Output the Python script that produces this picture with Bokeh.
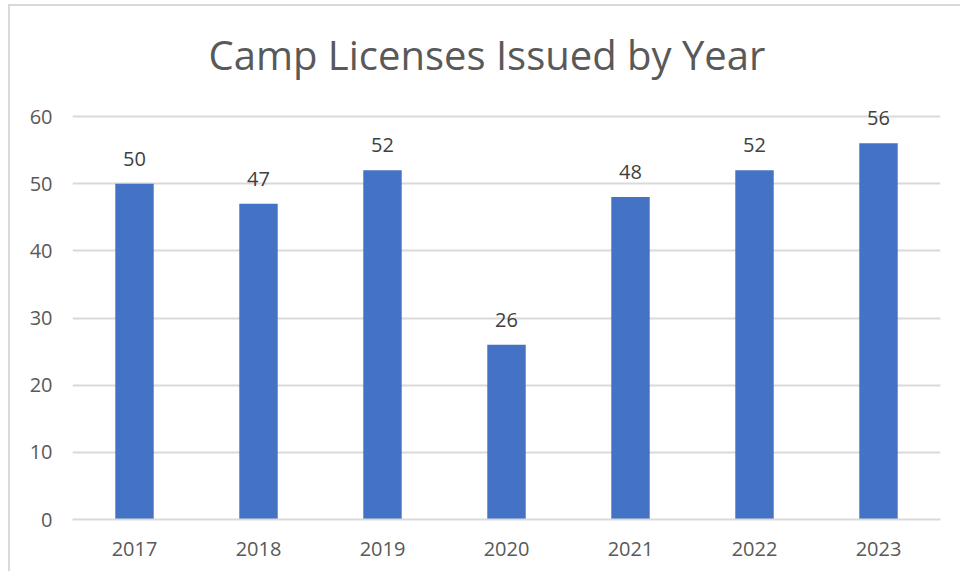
from bokeh.plotting import figure
from bokeh.models import ColumnDataSource, Range1d, FactorRange
from bokeh.core.properties import value
from bokeh.embed import file_html
from bokeh.resources import INLINE

years = ["2017", "2018", "2019", "2020", "2021", "2022", "2023"]
licenses = [50, 47, 52, 26, 48, 52, 56]
y_ticks = [0, 10, 20, 30, 40, 50, 60]
title_text = "Camp Licenses Issued by Year"

src = ColumnDataSource(dict(year=years, n=licenses, lbl=[str(v) for v in licenses]))

# frame extends above the 60 gridline so the top data label is not clipped
y_top = 60 * (519 - 100) / (519 - 116)

p = figure(width=960, height=571, output_backend="svg", toolbar_location=None,
           x_range=FactorRange(*years), y_range=Range1d(0, y_top),
           min_border_left=72, min_border_right=20, min_border_top=100, min_border_bottom=52,
           title=title_text)
p.styles = {"background-color": "white",
            "box-shadow": "inset 8px 4px 0 0 white, inset 10px 6px 0 0 #d9d9d9"}

p.title.text_font = "Open Sans"
p.title.text_font_size = "40px"
p.title.text_font_style = "normal"
p.title.text_color = "#595959"
p.title.align = "left"
p.title.offset = 136
p.title.standoff = 38

p.outline_line_color = None
p.background_fill_color = "white"
p.border_fill_color = None

p.vbar(x="year", top="n", width=0.31, source=src, fill_color="#4472C4", line_color=None)
p.text(x="year", y="n", text="lbl", source=src, text_align="center", text_baseline="alphabetic",
       y_offset=-25, text_font=value("Open Sans"), text_font_size="20px", text_color="#404040")

p.ygrid.grid_line_color = "#d9d9d9"
p.ygrid.grid_line_width = 2
p.xgrid.grid_line_color = None
p.yaxis.ticker = y_ticks
p.yaxis.axis_line_color = None
p.yaxis.major_tick_line_color = None
p.yaxis.minor_tick_line_color = None
p.yaxis.major_label_standoff = 14
p.xaxis.axis_line_color = "#d9d9d9"
p.xaxis.axis_line_width = 2
p.xaxis.major_tick_line_color = None
p.xaxis.minor_tick_line_color = None
p.xaxis.major_label_standoff = 16
for ax in (p.xaxis, p.yaxis):
    ax.major_label_text_font = "Open Sans"
    ax.major_label_text_font_size = "20px"
    ax.major_label_text_color = "#595959"

open("out.html", "w").write(file_html(p, INLINE))
